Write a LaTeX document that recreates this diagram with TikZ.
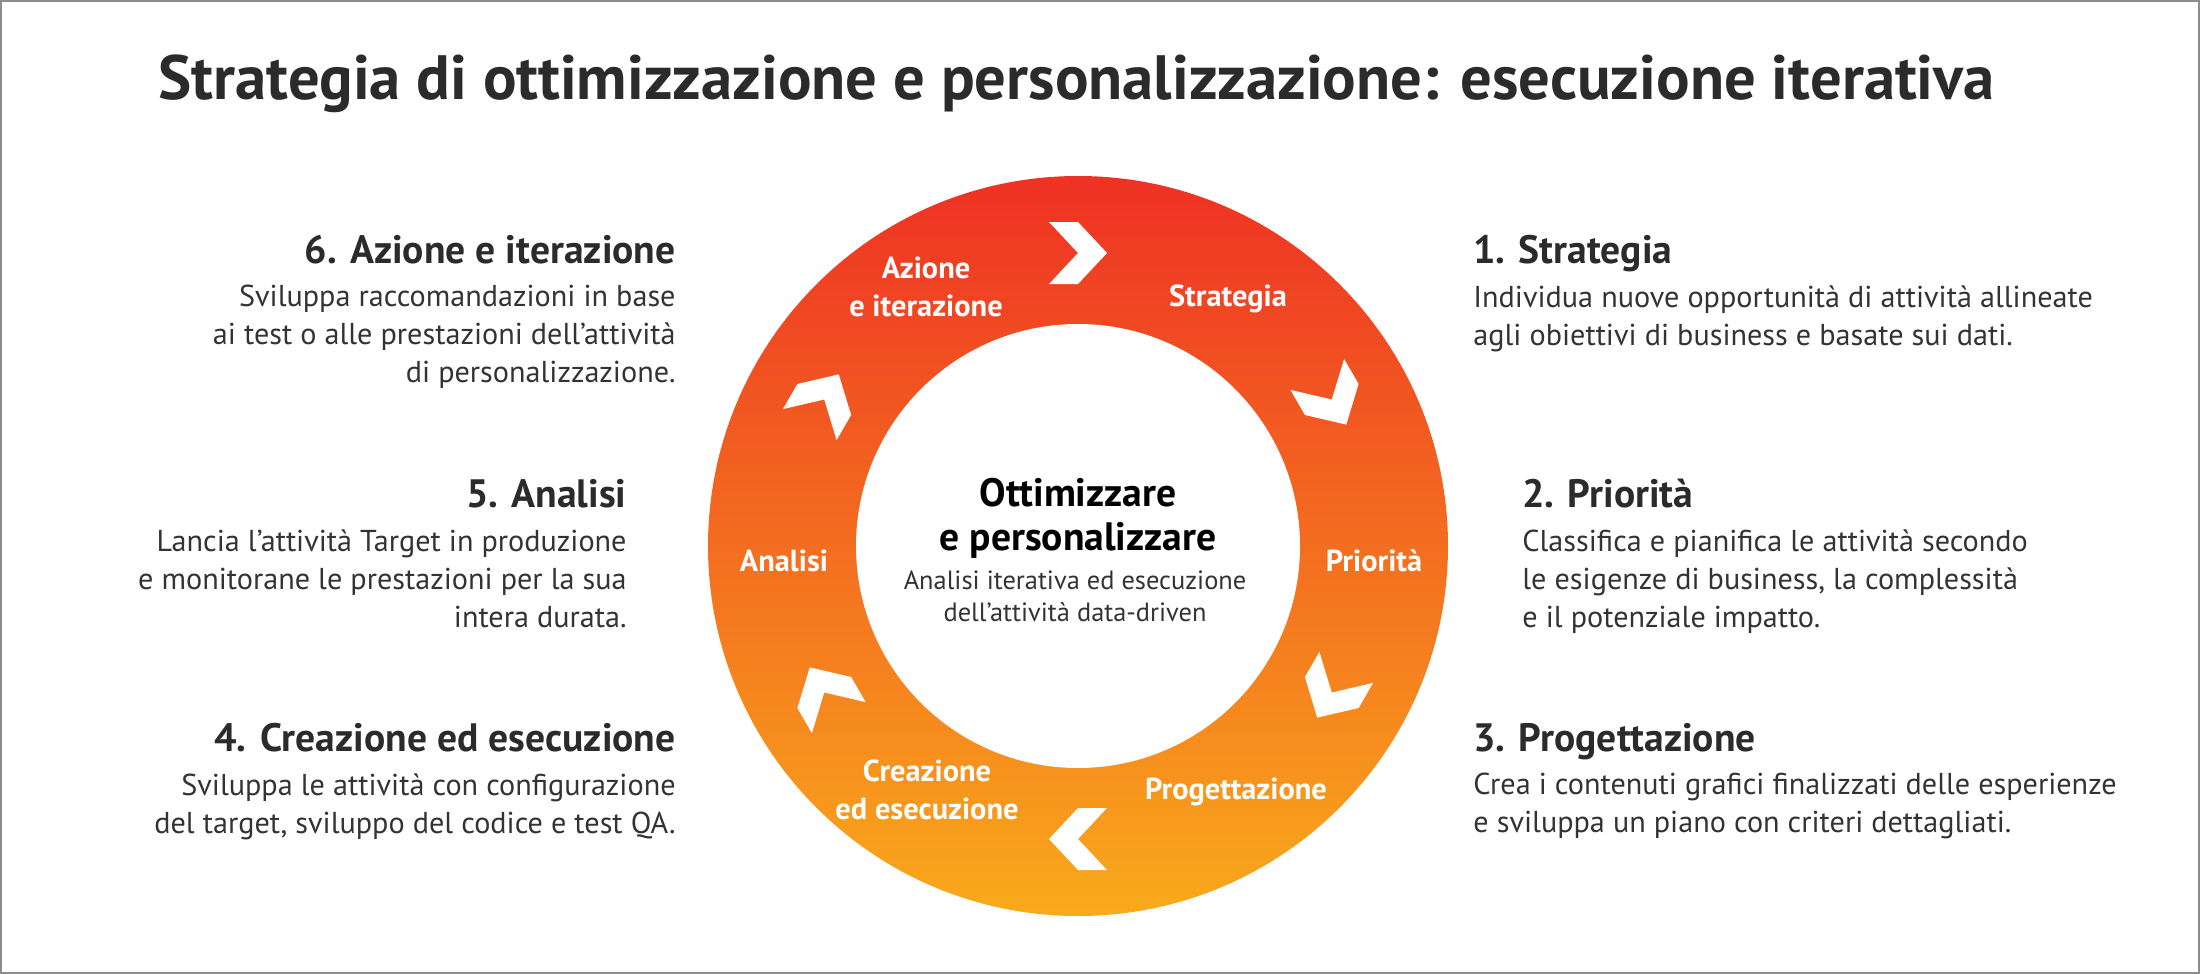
\documentclass[tikz,border=0pt]{standalone}
\usepackage{fontspec}
\setmainfont{PT Sans}
\usetikzlibrary{calc}
\definecolor{inkhead}{HTML}{2B2B2B}
\definecolor{inkbody}{HTML}{333333}
\definecolor{framegray}{HTML}{8C8C8C}
\definecolor{ringtop}{HTML}{EE3124}
\definecolor{ringmid}{HTML}{F26A21}
\definecolor{ringbot}{HTML}{F9AA1B}
\def\chevron{(-29,-31) -- (0,-31) -- (29,0) -- (0,31) -- (-29,31) -- (0,0) -- cycle}

\begin{document}
\begin{tikzpicture}[x=0.5pt,y=-0.5pt,
		headtxt/.style={font=\bfseries\fontsize{19.8}{23}\selectfont, text=inkhead, inner sep=0pt},
		bodytxt/.style={font=\fontsize{15.1}{19}\selectfont, text=inkbody, inner sep=0pt},
		ringtxt/.style={font=\bfseries\fontsize{15.2}{19}\selectfont, text=white, align=center, inner sep=0pt}]
		%%%%% START %%%%%
		
		\useasboundingbox (0,0) rectangle (2200,974);
		\draw[line width=1pt, color=framegray] (1,1) rectangle (2199,973);
		
		\node[font=\bfseries\fontsize{31.3}{36}\selectfont, text=inkhead, inner sep=0pt, anchor=base west] (title) at (158,100) {Strategia di ottimizzazione e personalizzazione: esecuzione iterativa};
		
		% ring
		\coordinate (ctr) at (1078,546);
		\shade[top color=ringtop, middle color=ringmid, bottom color=ringbot] (ctr) circle (370);
		\fill[white] (ctr) circle (222);
		\foreach \t in {-90,-30,30,90,150,210}
			\fill[white, shift={($(ctr)+(\t:293)$)}, rotate={-(\t)-90}] \chevron;
		
		\node[ringtxt] (r1) at (1228,299) {Strategia};
		\node[ringtxt] (r2) at (1374,561) {Priorità};
		\node[ringtxt] (r3) at (1236,792) {Progettazione};
		\node[ringtxt] (r4) at (927,790) {Creazione\\ed esecuzione};
		\node[ringtxt] (r5) at (784,561) {Analisi};
		\node[ringtxt] (r6) at (926,287) {Azione\\e iterazione};
		
		\node[font=\bfseries\fontsize{19.8}{22}\selectfont, align=center, inner sep=0pt] (mid) at (1078,518) {Ottimizzare\\e personalizzare};
		\node[font=\fontsize{13.2}{16}\selectfont, text=inkbody, align=center, inner sep=0pt] (midsub) at (1075,596) {Analisi iterativa ed esecuzione\\dell’attività data-driven};
		
		% left column
		\node[headtxt, anchor=base east] (h6) at (676,263) {6. Azione e iterazione};
		\node[bodytxt, align=right, anchor=north east] (t6) at (676,285) {Sviluppa raccomandazioni in base\\ai test o alle prestazioni dell’attività\\di personalizzazione.};
		\node[headtxt, anchor=base east] (h5) at (627,507) {5. Analisi};
		\node[bodytxt, align=right, anchor=north east] (t5) at (627,529) {Lancia l’attività Target in produzione\\e monitorane le prestazioni per la sua\\intera durata.};
		\node[headtxt, anchor=base east] (h4) at (676,751) {4. Creazione ed esecuzione};
		\node[bodytxt, align=right, anchor=north east] (t4) at (676,773) {Sviluppa le attività con configurazione\\del target, sviluppo del codice e test QA.};
		
		% right column
		\node[headtxt, anchor=base west] (h1) at (1473,263) {1. Strategia};
		\node[bodytxt, align=left, anchor=north west] (t1) at (1473,285) {Individua nuove opportunità di attività allineate\\agli obiettivi di business e basate sui dati.};
		\node[headtxt, anchor=base west] (h2) at (1522,507) {2. Priorità};
		\node[bodytxt, align=left, anchor=north west] (t2) at (1522,529) {Classifica e pianifica le attività secondo\\le esigenze di business, la complessità\\e il potenziale impatto.};
		\node[headtxt, anchor=base west] (h3) at (1473,751) {3. Progettazione};
		\node[bodytxt, align=left, anchor=north west] (t3) at (1473,773) {Crea i contenuti grafici finalizzati delle esperienze\\e sviluppa un piano con criteri dettagliati.};
		
		%%%%% END %%%%%
	\end{tikzpicture}
\end{document}
